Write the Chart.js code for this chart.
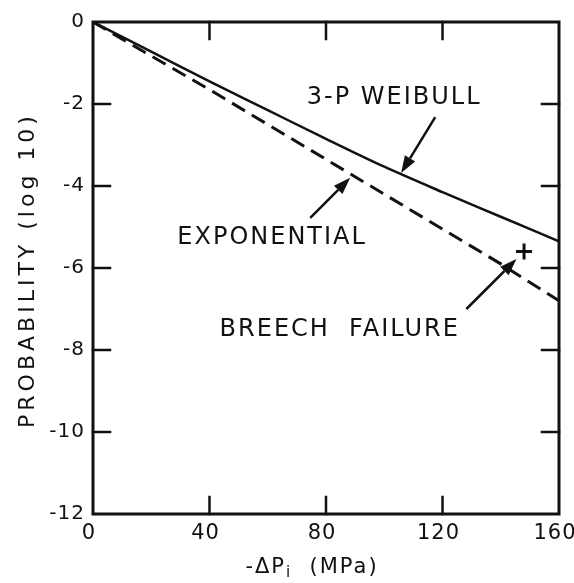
<!DOCTYPE html>
<html lang="en">
<head>
<meta charset="UTF-8">
<title>Probability vs pressure drop</title>
<script src="https://cdn.jsdelivr.net/npm/chart.js@4/dist/chart.umd.min.js"></script>
<style>
  html, body { margin: 0; padding: 0; background: #fff; }
</style>
</head>
<body>
<canvas id="prob-chart" width="574" height="583"></canvas>
<script>
// pressure drop -dPi (MPa) and log10 probability for each model
const pressure = [0, 20, 40, 60, 80, 100, 120, 140, 160];
const weibull = [0, -0.72, -1.45, -2.15, -2.85, -3.53, -4.15, -4.75, -5.35];
const exponential = [0, -0.83, -1.65, -2.5, -3.35, -4.2, -5.05, -5.9, -6.8];
const breechX = [148];
const breechY = [-5.6];

const INK = '#111';
const FONT = '"DejaVu Sans", sans-serif';

// callout text and arrows, in data units
const notes = [
  { text: '3-P WEIBULL', x: 103.4, y: -1.85 },
  { text: 'EXPONENTIAL', x: 61.5, y: -5.27 },
  { text: 'BREECH  FAILURE', x: 84.7, y: -7.51 }
];
const arrows = [
  { from: [117.5, -2.32], to: [105.8, -3.68] },
  { from: [74.6, -4.78], to: [88.3, -3.8] },
  { from: [128.2, -7.0], to: [145.4, -5.78] }
];

function toXY(xs, ys) {
  return xs.map((x, i) => ({ x: x, y: ys[i] }));
}

function arrow(ctx, x1, y1, x2, y2) {
  const a = Math.atan2(y2 - y1, x2 - x1);
  const len = 17, half = 6;
  const bx = x2 - len * Math.cos(a), by = y2 - len * Math.sin(a);
  ctx.beginPath();
  ctx.moveTo(x1, y1);
  ctx.lineTo(bx, by);
  ctx.stroke();
  ctx.beginPath();
  ctx.moveTo(x2, y2);
  ctx.lineTo(bx + half * Math.sin(a), by - half * Math.cos(a));
  ctx.lineTo(bx - half * Math.sin(a), by + half * Math.cos(a));
  ctx.closePath();
  ctx.fill();
}

// box frame, inward tick marks, axis titles and callouts
const decorations = {
  id: 'decorations',
  beforeDraw(chart) {
    // a little extra letter spacing for the tick labels
    chart.ctx.letterSpacing = '1px';
  },
  afterDraw(chart) {
    const ctx = chart.ctx;
    const a = chart.chartArea;
    const xs = chart.scales.x, ys = chart.scales.y;
    ctx.save();
    ctx.strokeStyle = INK;
    ctx.fillStyle = INK;
    ctx.lineCap = 'square';

    ctx.lineWidth = 3;
    ctx.strokeRect(a.left, a.top, a.right - a.left, a.bottom - a.top);

    ctx.lineWidth = 2.5;
    const tl = 17;
    ys.ticks.forEach(t => {
      if (t.value === ys.min || t.value === ys.max) return;
      const py = ys.getPixelForValue(t.value);
      ctx.beginPath();
      ctx.moveTo(a.left, py); ctx.lineTo(a.left + tl, py);
      ctx.moveTo(a.right, py); ctx.lineTo(a.right - tl, py);
      ctx.stroke();
    });
    xs.ticks.forEach(t => {
      if (t.value === xs.min || t.value === xs.max) return;
      const px = xs.getPixelForValue(t.value);
      ctx.beginPath();
      ctx.moveTo(px, a.bottom); ctx.lineTo(px, a.bottom - tl);
      ctx.moveTo(px, a.top); ctx.lineTo(px, a.top + tl);
      ctx.stroke();
    });

    // y title
    ctx.save();
    ctx.translate(28, 270);
    ctx.rotate(-Math.PI / 2);
    ctx.font = '22px ' + FONT;
    ctx.letterSpacing = '4px';
    ctx.textAlign = 'center';
    ctx.textBaseline = 'middle';
    ctx.fillText('PROBABILITY (log 10)', 0, 0);
    ctx.restore();

    // x title with subscript
    ctx.save();
    ctx.letterSpacing = '2px';
    ctx.textBaseline = 'alphabetic';
    ctx.textAlign = 'left';
    const big = '21px ' + FONT, small = '15px ' + FONT;
    ctx.font = big;
    const w1 = ctx.measureText('-ΔP').width;
    const w3 = ctx.measureText('  (MPa)').width;
    ctx.font = small;
    const w2 = ctx.measureText('i').width;
    const x0 = 312 - (w1 + w2 + w3) / 2;
    const base = 573;
    ctx.font = big;
    ctx.fillText('-ΔP', x0, base);
    ctx.font = small;
    ctx.fillText('i', x0 + w1, base + 4);
    ctx.font = big;
    ctx.fillText('  (MPa)', x0 + w1 + w2, base);
    ctx.restore();

    // callouts
    ctx.font = '24px ' + FONT;
    ctx.letterSpacing = '2px';
    ctx.textAlign = 'center';
    ctx.textBaseline = 'middle';
    notes.forEach(n => {
      ctx.fillText(n.text, xs.getPixelForValue(n.x), ys.getPixelForValue(n.y));
    });
    ctx.lineWidth = 2.5;
    ctx.lineCap = 'butt';
    arrows.forEach(ar => {
      arrow(ctx,
        xs.getPixelForValue(ar.from[0]), ys.getPixelForValue(ar.from[1]),
        xs.getPixelForValue(ar.to[0]), ys.getPixelForValue(ar.to[1]));
    });
    ctx.restore();
  }
};

Chart.defaults.font.family = FONT;
Chart.defaults.color = INK;

new Chart(document.getElementById('prob-chart'), {
  type: 'scatter',
  data: {
    datasets: [
      {
        label: '3-P Weibull',
        data: toXY(pressure, weibull),
        showLine: true,
        borderColor: INK,
        borderWidth: 2.5,
        pointRadius: 0,
        cubicInterpolationMode: 'monotone'
      },
      {
        label: 'Exponential',
        data: toXY(pressure, exponential),
        showLine: true,
        borderColor: INK,
        borderWidth: 3,
        borderDash: [15, 8],
        pointRadius: 0
      },
      {
        label: 'Breech failure',
        data: toXY(breechX, breechY),
        pointStyle: 'cross',
        pointRadius: 8,
        borderWidth: 3,
        borderColor: INK
      }
    ]
  },
  options: {
    responsive: false,
    animation: false,
    layout: { padding: { top: 22, right: 15, left: 0, bottom: 0 } },
    plugins: { legend: { display: false }, tooltip: { enabled: false } },
    scales: {
      x: {
        type: 'linear',
        min: 0, max: 160,
        grid: { display: false, drawTicks: false },
        border: { display: false },
        ticks: { stepSize: 40, padding: 7, labelOffset: -4, font: { size: 21 }, color: INK, maxRotation: 0 },
        afterFit(scale) {
          scale.height = 69;
          scale.paddingLeft = 0;
          scale.paddingRight = 0;
        }
      },
      y: {
        type: 'linear',
        min: -12, max: 0,
        grid: { display: false, drawTicks: false },
        border: { display: false },
        ticks: { stepSize: 2, padding: 8, font: { size: 20 }, color: INK },
        afterFit(scale) {
          scale.width = 93;
          scale.paddingTop = 0;
          scale.paddingBottom = 0;
        }
      }
    }
  },
  plugins: [decorations]
});
</script>
</body>
</html>
